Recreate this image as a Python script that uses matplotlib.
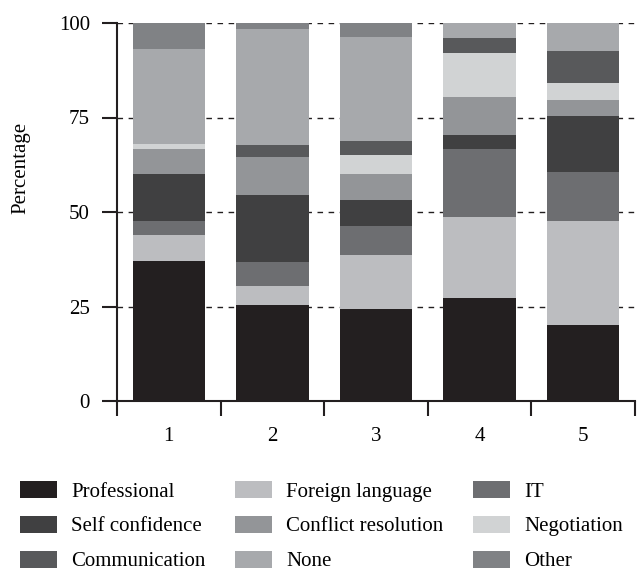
import numpy as np
import matplotlib.pyplot as plt
from matplotlib.patches import Patch

plt.rcParams['font.family'] = ['Liberation Serif', 'DejaVu Serif']

groups = ['1', '2', '3', '4', '5']
skills = ['Professional', 'Foreign language', 'IT', 'Self confidence',
          'Conflict resolution', 'Negotiation', 'Communication', 'None', 'Other']
colors = ['#231f20', '#bcbdc0', '#6d6e71', '#404041', '#939598',
          '#d1d3d4', '#58595b', '#a7a9ac', '#808285']

# percentage of each skill per group (stack order bottom -> top)
professional = [37.1, 25.5, 24.4, 27.3, 20.2]
foreign      = [6.7, 5.0, 14.1, 21.5, 27.5]
it           = [3.9, 6.4, 7.7, 17.8, 13.0]
self_conf    = [12.3, 17.7, 6.9, 3.7, 14.6]
conflict     = [6.6, 9.9, 6.9, 10.1, 4.3]
negotiation  = [1.4, 0.0, 5.0, 11.6, 4.5]
communic     = [0.0, 3.1, 3.7, 4.0, 8.5]
none         = [25.1, 30.8, 27.6, 4.0, 7.4]
other        = [6.9, 1.6, 3.7, 0.0, 0.0]
series = [professional, foreign, it, self_conf, conflict,
          negotiation, communic, none, other]

fig = plt.figure(figsize=(6.38, 5.74), dpi=100)
ax = fig.add_axes([117/638, 1-401/574, 518/638, 378/574])

x = np.arange(1, len(groups) + 1)
bottom = np.zeros(len(groups))
for vals, c in zip(series, colors):
    ax.bar(x, vals, 0.7, bottom=bottom, color=c, zorder=2)
    bottom += np.array(vals)

ax.set_xlim(0.5, 5.5)
ax.set_ylim(0, 100)
ax.set_yticks([0, 25, 50, 75, 100])
ax.set_xticks(x)
ax.set_xticklabels(groups)
ax.set_xticks(np.arange(0.5, 6.0, 1.0), minor=True)
ax.tick_params(axis='x', which='major', length=0, pad=19, labelsize=15)
ax.tick_params(axis='x', which='minor', length=10.8, width=1.5, direction='out',
               color='#231f20')
ax.tick_params(axis='y', length=10.8, width=1.5, direction='out', labelsize=15,
               pad=8.6, color='#231f20')
ax.yaxis.grid(True, linestyle=(0, (4, 4)), color='#231f20', linewidth=1, zorder=1)
for s in ['top', 'right']:
    ax.spines[s].set_visible(False)
for s in ['left', 'bottom']:
    ax.spines[s].set_linewidth(1.5)
    ax.spines[s].set_color('#231f20')

fig.text(21/638, 1-168/574, 'Percentage', rotation=90, ha='center', va='center', fontsize=15)

# legend in three columns placed by hand
cols = [[0, 3, 6], [1, 4, 7], [2, 5, 8]]
col_x = [20, 235, 473]
for idx, cx in zip(cols, col_x):
    handles = [Patch(facecolor=colors[i], edgecolor='none') for i in idx]
    labels = [skills[i] for i in idx]
    fig.legend(handles, labels, loc='upper left',
               bbox_to_anchor=(cx/638, 1-481/574), frameon=False,
               fontsize=15, handlelength=1.78, handleheight=0.87,
               handletextpad=0.67, labelspacing=0.68, borderpad=0,
               borderaxespad=0)

plt.savefig('out.png', dpi=100)
